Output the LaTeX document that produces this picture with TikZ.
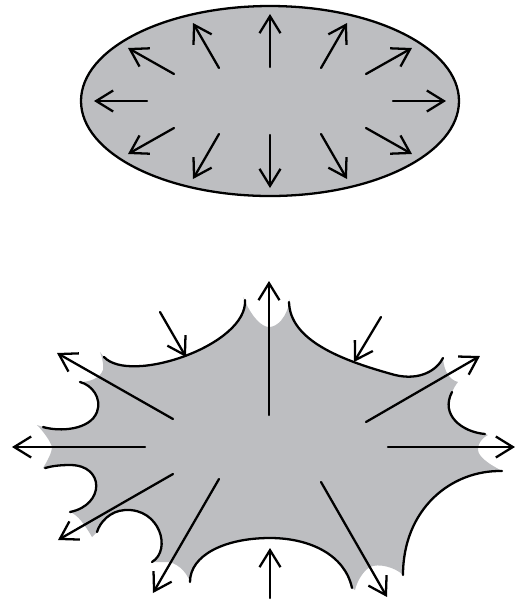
\documentclass[tikz,border=0pt]{standalone}
\usetikzlibrary{arrows.meta}
\definecolor{blobgray}{RGB}{189,190,193}
\begin{document}
\begin{tikzpicture}[
  x=0.02cm, y=-0.02cm,
  ray/.style={-{Straight Barb[length=3.4mm,width=4.2mm]}, line width=1.3pt, line cap=round},
  rim/.style={line width=1.3pt, line cap=round},
  blob/.style={fill=blobgray}
]
\useasboundingbox (0,0) rectangle (517,600);

\draw[rim, fill=blobgray] (270,101) ellipse [x radius=189, y radius=95];
\foreach \xa/\ya/\xb/\yb in {270/67/270/14, 270/135/270/188, 147/101/94/101, 393/101/446/101,
    366/74/412/48, 174/74/128/48, 366/128/412/154, 174/128/128/154,
    321/68/347/23, 219/68/193/23, 321/134/347/179, 219/134/193/179}
  \draw[ray] (\xa,\ya) -- (\xb,\yb);

\fill[blob] (104,357) .. controls (130,385) and (248,345) .. (245,300)
  -- (243,297) .. controls (252,318) and (262,327) .. (269,327)
  .. controls (277,327) and (287,318) .. (290,299) -- (289,302)
  .. controls (290,340) and (340,360) .. (395,375) .. controls (420,381) and (437,370) .. (443,358)
  .. controls (444,372) and (450,380) .. (458,382) .. controls (455,386) .. (452,392)
  .. controls (440,415) and (462,432) .. (485,434)
  -- (488,435) .. controls (478,440) and (476,450) .. (480,455)
  .. controls (485,462) and (495,467) .. (502,471)
  .. controls (450,470) and (403,510) .. (403,575)
  .. controls (395,567) and (378,563) .. (370,567)
  .. controls (362,572) and (357,582) .. (355,590) -- (352,588)
  .. controls (345,555) and (310,538) .. (270,538) .. controls (225,538) and (190,555) .. (190,582)
  .. controls (186,570) and (175,562) .. (167,562) -- (152,562)
  .. controls (172,550) and (160,508) .. (125,510) .. controls (110,511) and (100,522) .. (97,532)
  -- (92,537) .. controls (85,525) and (78,515) .. (70,512)
  .. controls (105,505) and (105,465) .. (70,465) .. controls (60,465) and (52,466) .. (45,468)
  -- (43,468) .. controls (48,460) and (52,452) .. (52,447)
  .. controls (50,440) and (42,430) .. (37,425) -- (43,427)
  .. controls (60,432) and (90,430) .. (97,412) .. controls (102,398) and (92,385) .. (80,382)
  .. controls (90,382) and (100,378) .. (103,370)
  .. controls (104,362) and (101,355) .. (100,352) -- cycle;

\draw[rim] (104,357) .. controls (130,385) and (248,345) .. (245,300);
\draw[rim] (289,302) .. controls (290,340) and (340,360) .. (395,375)
  .. controls (420,381) and (437,370) .. (443,358);
\draw[rim] (452,392) .. controls (440,415) and (462,432) .. (485,434);
\draw[rim] (502,471) .. controls (450,470) and (403,510) .. (403,575);
\draw[rim] (352,588) .. controls (345,555) and (310,538) .. (270,538)
  .. controls (225,538) and (190,555) .. (190,582);
\draw[rim] (152,562) .. controls (172,550) and (160,508) .. (125,510)
  .. controls (110,511) and (100,522) .. (97,532);
\draw[rim] (70,512) .. controls (105,505) and (105,465) .. (70,465)
  .. controls (60,465) and (52,466) .. (45,468);
\draw[rim] (43,427) .. controls (60,432) and (90,430) .. (97,412)
  .. controls (102,398) and (92,385) .. (80,382);

\foreach \xa/\ya/\xb/\yb in {269/415/269/281, 270/598/270/548, 145/447/12/447, 388/447/515/447,
    173/419/57/353, 173/474/58/540, 219/479/153/593, 321/482/387/597,
    366/422/480/356, 160/312/186/357, 381/317/354/362}
  \draw[ray] (\xa,\ya) -- (\xb,\yb);
\end{tikzpicture}
\end{document}
